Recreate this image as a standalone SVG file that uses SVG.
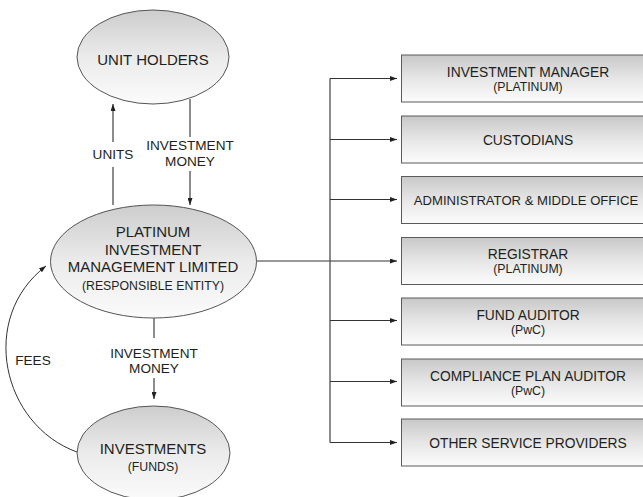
<svg xmlns="http://www.w3.org/2000/svg" width="643" height="497" viewBox="0 0 643 497">
<defs>
<linearGradient id="eg" x1="0" y1="0" x2="0" y2="1">
<stop offset="0" stop-color="#cdcdcd"/>
<stop offset="0.5" stop-color="#ebebeb"/>
<stop offset="1" stop-color="#fbfbfb"/>
</linearGradient>
<linearGradient id="bg" x1="0" y1="0" x2="0" y2="1">
<stop offset="0" stop-color="#c8c8c8"/>
<stop offset="0.5" stop-color="#e6e6e6"/>
<stop offset="1" stop-color="#fcfcfc"/>
</linearGradient>
<marker id="ah" viewBox="0 0 7 5" refX="7" refY="2.5" markerWidth="7" markerHeight="5" markerUnits="userSpaceOnUse" orient="auto">
<path d="M0,0 L7,2.5 L0,5 Z" fill="#222"/>
</marker>
</defs>
<style>
text{font-family:"Liberation Sans",Arial,sans-serif;fill:#231f20;text-anchor:middle}
.big{font-size:15px}
.mid{font-size:13.6px}
.bx{font-size:13.8px}
.sm{font-size:12.3px}
.ell{fill:url(#eg);stroke:#555;stroke-width:1}
.box{fill:url(#bg);stroke:#5a5a5a;stroke-width:1}
.ln{fill:none;stroke:#333;stroke-width:1}
.lg{fill:none;stroke:#666;stroke-width:1.5}
</style>
<rect width="643" height="497" fill="#fff"/>
<g id="connectors">
<line class="lg" x1="113" y1="205" x2="113" y2="167"/>
<line class="lg" x1="113" y1="142" x2="113" y2="104" marker-end="url(#ah)"/>
<line class="lg" x1="190" y1="99" x2="190" y2="137"/>
<line class="lg" x1="190" y1="171" x2="190" y2="205" marker-end="url(#ah)"/>
<line class="lg" x1="154" y1="318" x2="154" y2="338"/>
<line class="lg" x1="154" y1="378" x2="154" y2="399" marker-end="url(#ah)"/>
<path class="ln" d="M77,452 C2,425 -22,318 46,266" marker-end="url(#ah)"/>
<line class="ln" x1="256" y1="261" x2="330" y2="261"/>
<line class="lg" x1="330" y1="78.5" x2="330" y2="442.5"/>
<line class="ln" x1="330" y1="78.5" x2="397" y2="78.5" marker-end="url(#ah)"/>
<line class="ln" x1="330" y1="139.5" x2="397" y2="139.5" marker-end="url(#ah)"/>
<line class="ln" x1="330" y1="199.5" x2="397" y2="199.5" marker-end="url(#ah)"/>
<line class="ln" x1="330" y1="261" x2="397" y2="261" marker-end="url(#ah)"/>
<line class="ln" x1="330" y1="320.5" x2="397" y2="320.5" marker-end="url(#ah)"/>
<line class="ln" x1="330" y1="381.5" x2="397" y2="381.5" marker-end="url(#ah)"/>
<line class="ln" x1="330" y1="442.5" x2="397" y2="442.5" marker-end="url(#ah)"/>
<text class="mid" x="113" y="159">UNITS</text>
<text class="mid" x="190" y="150">INVESTMENT</text>
<text class="mid" x="190" y="166">MONEY</text>
<text class="mid" x="154" y="358">INVESTMENT</text>
<text class="mid" x="154" y="373">MONEY</text>
<text class="mid" x="33" y="365">FEES</text>
</g>
<g id="unit-holders">
<ellipse class="ell" cx="153" cy="57" rx="76" ry="47"/>
<text class="big" x="153" y="65">UNIT HOLDERS</text>
</g>
<g id="platinum">
<ellipse class="ell" cx="153.5" cy="261.5" rx="103" ry="56.5"/>
<text class="big" x="153" y="237">PLATINUM</text>
<text class="big" x="153" y="254.5">INVESTMENT</text>
<text class="big" x="153" y="272">MANAGEMENT LIMITED</text>
<text class="sm" x="153" y="290">(RESPONSIBLE ENTITY)</text>
</g>
<g id="investments">
<ellipse class="ell" cx="153.5" cy="453" rx="76.5" ry="47"/>
<text class="big" x="153" y="454">INVESTMENTS</text>
<text class="sm" x="153" y="471">(FUNDS)</text>
</g>
<g id="investment-manager">
<rect class="box" x="401.5" y="55" width="260" height="47"/>
<text class="bx" x="528" y="77">INVESTMENT MANAGER</text>
<text class="sm" x="528" y="91">(PLATINUM)</text>
</g>
<g id="custodians">
<rect class="box" x="401.5" y="116" width="260" height="47"/>
<text class="bx" x="528" y="144.5">CUSTODIANS</text>
</g>
<g id="administrator">
<rect class="box" x="401.5" y="176.5" width="260" height="47"/>
<text class="bx" x="526" y="205" style="font-size:13.1px">ADMINISTRATOR &amp; MIDDLE OFFICE</text>
</g>
<g id="registrar">
<rect class="box" x="401.5" y="237.5" width="260" height="47"/>
<text class="bx" x="528" y="259">REGISTRAR</text>
<text class="sm" x="528" y="273">(PLATINUM)</text>
</g>
<g id="fund-auditor">
<rect class="box" x="401.5" y="298" width="260" height="47"/>
<text class="bx" x="528" y="320">FUND AUDITOR</text>
<text class="sm" x="528" y="334">(PwC)</text>
</g>
<g id="compliance-auditor">
<rect class="box" x="401.5" y="359" width="260" height="47"/>
<text class="bx" x="528" y="381">COMPLIANCE PLAN AUDITOR</text>
<text class="sm" x="528" y="395">(PwC)</text>
</g>
<g id="other-providers">
<rect class="box" x="401.5" y="419" width="260" height="47"/>
<text class="bx" x="528" y="447.5">OTHER SERVICE PROVIDERS</text>
</g>
</svg>
